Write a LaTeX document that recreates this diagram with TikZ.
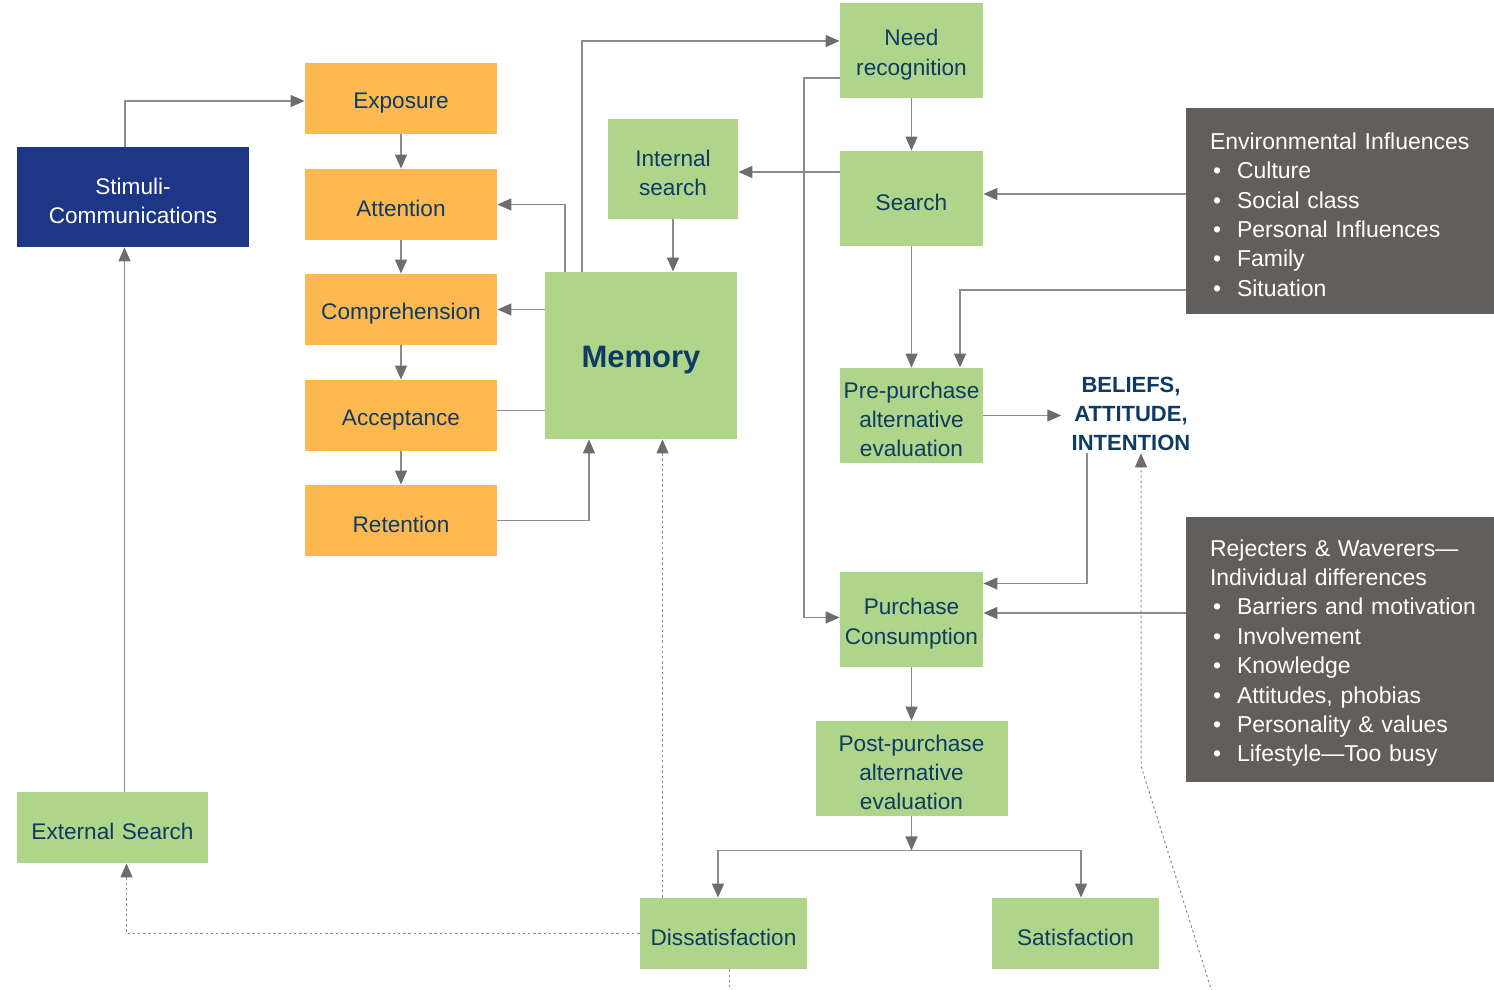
\documentclass[tikz,border=0pt]{standalone}
\usepackage{fontspec}
\setmainfont{Liberation Sans}
\usetikzlibrary{arrows.meta}
\definecolor{lgreen}{RGB}{174,213,137}
\definecolor{lorange}{RGB}{253,185,79}
\definecolor{stimblue}{RGB}{30,54,134}
\definecolor{graybg}{RGB}{98,94,92}
\definecolor{navy}{RGB}{14,59,99}
\definecolor{linegray}{RGB}{140,140,140}
\definecolor{tipgray}{RGB}{110,108,108}
\newcommand\bul[1]{\mbox{\kern1.5pt\makebox[12pt][l]{\textbullet}#1}}
\begin{document}
\begin{tikzpicture}[x=0.5pt,y=-0.5pt,
  box/.style={inner sep=0pt, align=center, text=navy,
    font=\fontsize{11.3}{14.7}\selectfont,
    execute at begin node={\noindent\rule{0pt}{12.2pt}}},
  wd/.style={minimum width=#1, text width=#1},
  gbox/.style={box, fill=lgreen, wd=71.5pt, minimum height=47.5pt},
  obox/.style={box, fill=lorange, wd=96pt, minimum height=35.5pt},
  graybox/.style={fill=graybg, text=white, inner xsep=12pt, inner ysep=0pt,
    align=left, text width=130pt, minimum width=154pt,
    font=\fontsize{11.5}{14.7}\selectfont,
    execute at begin node={\noindent\rule{0pt}{11.9pt}}},
  conn/.style={draw=linegray, line width=0.65pt},
  arr/.style={conn, -{Triangle[length=7pt,width=6pt,color=tipgray]}},
  dot/.style={draw=linegray, line width=0.5pt, dash pattern=on 1.2pt off 1.4pt},
  darr/.style={dot, -{Triangle[length=7pt,width=6pt,color=tipgray]}}
]
\useasboundingbox (0,0) rectangle (1494,990);

% nodes
\node[box, fill=stimblue, text=white, wd=116pt, minimum height=50pt] (stim) at (133,197) {Stimuli-\\Communications};
\node[obox] (expo) at (401,98.5) {Exposure};
\node[obox] (att) at (401,204.5) {Attention};
\node[obox] (comp) at (401,309.5) {Comprehension};
\node[obox] (acc) at (401,415.5) {Acceptance};
\node[obox] (ret) at (401,520.5) {Retention};
\node[box, fill=lgreen, wd=96pt, minimum height=83.5pt,
  font=\fontsize{15.5}{18}\selectfont\bfseries,
  execute at begin node={\noindent\rule{0pt}{15.5pt}}] (mem) at (641,355.5) {Memory};
\node[box, fill=lgreen, wd=65pt, minimum height=50pt] (isearch) at (673,169) {Internal\\search};
\node[gbox] (need) at (911.5,50.5) {Need\\recognition};
\node[gbox] (search) at (911.5,198.5) {Search};
\node[gbox] (pre) at (911.5,415.5) {Pre-purchase\\alternative\\evaluation};
\node[box, inner xsep=5pt, inner ysep=1pt, font=\fontsize{11}{14.6}\selectfont\bfseries,
  execute at begin node={}] (bel) at (1131,414) {BELIEFS,\\ATTITUDE,\\INTENTION};
\node[gbox] (purch) at (911.5,619.5) {Purchase\\Consumption};
\node[gbox, wd=96pt] (post) at (911.5,768.5) {Post-purchase\\alternative\\evaluation};
\node[gbox, wd=83.5pt, minimum height=35.5pt] (dis) at (723.5,933.5) {Dissatisfaction};
\node[gbox, wd=83.5pt, minimum height=35.5pt] (sat) at (1075.5,933.5) {Satisfaction};
\node[gbox, wd=95.5pt, minimum height=35.5pt] (ext) at (112.5,827.5) {\mbox{External Search}};
\node[graybox, minimum height=103pt] (env) at (1340,211) {\mbox{Environmental Influences}\\
\bul{Culture}\\
\bul{Social class}\\
\bul{Personal Influences}\\
\bul{Family}\\
\bul{Situation}};
\node[graybox, minimum height=132.5pt] (rej) at (1340,649.5) {\mbox{Rejecters \& Waverers—}\\
\mbox{Individual differences}\\
\bul{Barriers and motivation}\\
\bul{Involvement}\\
\bul{Knowledge}\\
\bul{Attitudes, phobias}\\
\bul{Personality \& values}\\
\bul{Lifestyle—Too busy}};

% helper coordinates
\coordinate (m1) at ([xshift=-38pt]mem.north);
\coordinate (m2) at ([xshift=-29.5pt]mem.north);
\coordinate (m3) at ([xshift=-26pt]mem.south);
\coordinate (n1) at ([yshift=-13.75pt]need.west);
\coordinate (nb) at (804,0);
\coordinate (s1) at ([yshift=13.25pt]search.west);
\coordinate (e1) at ([yshift=8.5pt]env.west);
\coordinate (e2) at ([yshift=-39.5pt]env.west);
\coordinate (p1) at ([xshift=24.25pt]pre.north);
\coordinate (b1) at ([xshift=-22pt]bel.south);
\coordinate (pc1) at ([yshift=18pt]purch.east);
\coordinate (r1) at ([yshift=18.25pt]rej.west);
\coordinate (bar) at ([yshift=-17pt]post.south);
\coordinate (d1) at ([xshift=-30.5pt]dis.north);
\coordinate (dout) at (729,992);
\coordinate (bout) at (1212,992);
\coordinate (bk) at (1141,766);
\coordinate (x1) at ([xshift=6pt]ext.north);
\coordinate (st1) at ([xshift=-4pt]stim.north);
\coordinate (ac1) at ([yshift=2.5pt]acc.east);

% connectors
\draw[arr] (st1) |- ([yshift=-1.25pt]expo.west);
\draw[arr] (expo.south) -- (att.north);
\draw[arr] (att.south) -- (comp.north);
\draw[arr] (comp.south) -- (acc.north);
\draw[arr] (acc.south) -- (ret.north);
\draw[arr] (m1) |- (att.east);
\draw[arr] (mem.west |- comp.east) -- (comp.east);
\draw[conn] (ac1) -- (ac1 -| mem.west);
\draw[arr] (ret.east) -| (m3);
\draw[arr] (m2) |- ([yshift=4.75pt]need.west);
\draw[arr] (need.south) -- (search.north);
\draw[arr] (n1) -- (n1 -| nb) |- ([yshift=1pt]purch.west);
\draw[arr] (s1) -- (s1 -| isearch.east);
\draw[arr] (isearch.south) -- (isearch.south |- mem.north);
\draw[arr] (e1) -- (e1 -| search.east);
\draw[arr] (e2) -| (p1);
\draw[arr] (search.south) -- (pre.north);
\draw[arr] (pre.east) -- (pre.east -| bel.west);
\draw[arr] (b1) |- (pc1);
\draw[arr] (r1) -- (r1 -| purch.east);
\draw[arr] (purch.south) -- (post.north);
\draw[arr] (post.south) -- (bar);
\draw[arr] (bar) -| ([xshift=-2.75pt]dis.north);
\draw[arr] (bar) -| ([xshift=2.75pt]sat.north);
\draw[darr] (dis.west) -| ([xshift=7pt]ext.south);
\draw[darr] (d1) -- (d1 |- mem.south);
\draw[dot] ([xshift=2.75pt]dis.south) -- (dout);
\draw[darr] (bout) -- (bk) -- (bk |- bel.south);
\draw[arr] (x1) -- (x1 |- stim.south);
\end{tikzpicture}
\end{document}
